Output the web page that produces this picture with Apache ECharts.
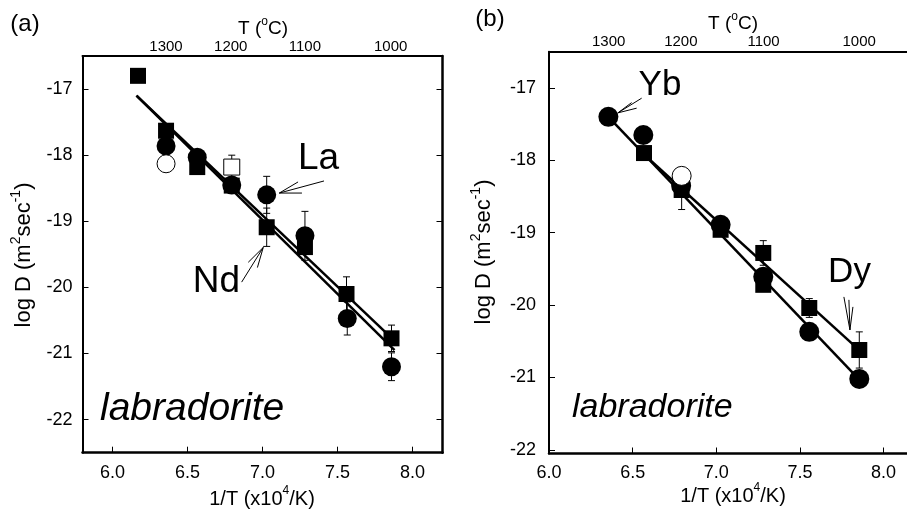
<!DOCTYPE html>
<html>
<head>
<meta charset="utf-8">
<script src="https://cdn.jsdelivr.net/npm/echarts@6/dist/echarts.min.js"></script>
<style>
html, body { margin: 0; padding: 0; background: #fff; }
#chart { width: 907px; height: 517px; }
</style>
</head>
<body>
<div id="chart"></div>
<script>
// ---- panel (a): La (circles) and Nd (squares) ----
const laX = [6.357, 6.565, 6.795, 7.028, 7.283, 7.565, 7.86];
const laY = [-17.86, -18.03, -18.45, -18.60, -19.22, -20.47, -21.20];
const laErr = [0, 0, 0, 0.28, 0.37, 0.25, 0.21];
const laOpenX = [6.357];
const laOpenY = [-18.13];

const ndX = [6.17, 6.357, 6.565, 6.795, 7.028, 7.283, 7.56, 7.86];
const ndY = [-16.80, -17.63, -18.18, -18.46, -19.09, -19.39, -20.10, -20.77];
const ndErr = [0, 0, 0, 0, 0.29, 0, 0.26, 0.20];
const ndOpenX = [6.795];
const ndOpenY = [-18.18];
const ndOpenErr = [0.18];

const laFitX = [6.16, 7.88];
const laFitY = [-17.10, -20.95];
const ndFitX = [6.16, 7.90];
const ndFitY = [-17.10, -20.85];

// ---- panel (b): Yb (circles) and Dy (squares) ----
const ybX = [6.355, 6.564, 6.79, 7.026, 7.281, 7.556, 7.855];
const ybY = [-17.40, -17.65, -18.35, -18.89, -19.61, -20.37, -21.02];
const ybOpenX = [6.793];
const ybOpenY = [-18.215];

const dyX = [6.568, 6.793, 7.026, 7.281, 7.281, 7.556, 7.855];
const dyY = [-17.90, -18.41, -18.96, -19.28, -19.72, -20.04, -20.62];
const dyErr = [0, 0.27, 0, 0.17, 0, 0.13, 0.25];

const ybFitX = [6.355, 7.855];
const ybFitY = [-17.40, -21.03];
const dyFitX = [6.568, 7.83];
const dyFitY = [-17.92, -20.57];

// ---- axis ticks ----
const invTTicks = [6.0, 6.5, 7.0, 7.5, 8.0];
const logDTicks = [-22, -21, -20, -19, -18, -17];
const tempTicksC = [1300, 1200, 1100, 1000];

// ---- label arrows: tip point, then the ends of the fan lines ----
const laArrowTip = [7.112, -18.573];
const laArrowEnds = [[7.41, -18.39], [7.237, -18.405], [7.263, -18.573]];
const ndArrowTip = [7.005, -19.395];
const ndArrowEnds = [[6.861, -19.92], [6.905, -19.62], [6.966, -19.70]];
const ybArrowTip = [6.412, -17.345];
const ybArrowEnds = [[6.554, -17.142], [6.494, -17.203], [6.524, -17.280]];
const dyArrowTip = [7.799, -20.343];
const dyArrowEnds = [[7.763, -19.887], [7.793, -19.928], [7.817, -20.025]];

const FONT = '"Liberation Sans", Arial, Helvetica, sans-serif';
const BLACK = '#000';

// 1/T (10^4/K) position of a temperature in deg C
const tempToInvT = c => 1e4 / (c + 273.15);
const invTToTemp = v => Math.round(1e4 / v - 273.15);
const tempPos = tempTicksC.map(tempToInvT);

const zip = (xs, ys) => xs.map((x, i) => [x, ys[i]]);

function bottomAxis(grid, min, max) {
  return {
    type: 'value', gridIndex: grid, position: 'bottom', min, max,
    axisLine: { show: true, lineStyle: { color: BLACK, width: 2.5 } },
    axisTick: { show: true, inside: true, length: 6, customValues: invTTicks,
      lineStyle: { color: BLACK, width: 1 } },
    axisLabel: { show: true, customValues: invTTicks, margin: 11,
      formatter: v => v.toFixed(1),
      fontSize: 18, color: BLACK, fontFamily: FONT },
    splitLine: { show: false }
  };
}
function topAxis(grid, min, max) {
  return {
    type: 'value', gridIndex: grid, position: 'top', min, max,
    axisLine: { show: true, lineStyle: { color: BLACK, width: 2 } },
    axisTick: { show: false, customValues: tempPos },
    axisLabel: { show: true, customValues: tempPos, margin: 2,
      formatter: v => String(invTToTemp(v)),
      fontSize: 15, color: BLACK, fontFamily: FONT },
    splitLine: { show: false }
  };
}
function leftAxis(grid, min, max, margin) {
  return {
    type: 'value', gridIndex: grid, position: 'left', min, max,
    axisLine: { show: true, lineStyle: { color: BLACK, width: 2 } },
    axisTick: { show: true, inside: true, length: 6, customValues: logDTicks,
      lineStyle: { color: BLACK, width: 1 } },
    axisLabel: { show: true, customValues: logDTicks, margin,
      formatter: v => String(v),
      fontSize: 18, color: BLACK, fontFamily: FONT },
    splitLine: { show: false }
  };
}
function rightAxis(grid, min, max) {
  return {
    type: 'value', gridIndex: grid, position: 'right', min, max,
    axisLine: { show: true, lineStyle: { color: BLACK, width: 2.5 } },
    axisTick: { show: true, inside: true, length: 6, customValues: logDTicks,
      lineStyle: { color: BLACK, width: 1 } },
    axisLabel: { show: false },
    splitLine: { show: false }
  };
}

function markers(xi, yi, xs, ys, symbol, size, open) {
  return {
    type: 'scatter', xAxisIndex: xi, yAxisIndex: yi, symbol, symbolSize: size,
    data: zip(xs, ys), z: open ? 6 : 5, silent: true,
    itemStyle: open
      ? { color: '#fff', borderColor: BLACK, borderWidth: 1, opacity: 1 }
      : { color: BLACK, borderWidth: 0, opacity: 1 }
  };
}
function fitLine(xi, yi, xs, ys) {
  return {
    type: 'line', xAxisIndex: xi, yAxisIndex: yi, data: zip(xs, ys),
    symbol: 'none', z: 3, silent: true,
    lineStyle: { color: BLACK, width: 2.5, opacity: 1 }
  };
}
function errorBars(xi, yi, xs, ys, es) {
  const data = [];
  xs.forEach((x, i) => { if (es[i] > 0) data.push([x, ys[i] - es[i], ys[i] + es[i]]); });
  return {
    type: 'custom', xAxisIndex: xi, yAxisIndex: yi, z: 4, silent: true,
    encode: { x: 0, y: [1, 2] }, data,
    renderItem(params, api) {
      const lo = api.coord([api.value(0), api.value(1)]);
      const hi = api.coord([api.value(0), api.value(2)]);
      const w = 3.5;
      const st = { stroke: BLACK, lineWidth: 1 };
      return { type: 'group', children: [
        { type: 'line', shape: { x1: lo[0], y1: lo[1], x2: hi[0], y2: hi[1] }, style: st },
        { type: 'line', shape: { x1: lo[0] - w, y1: lo[1], x2: lo[0] + w, y2: lo[1] }, style: st },
        { type: 'line', shape: { x1: hi[0] - w, y1: hi[1], x2: hi[0] + w, y2: hi[1] }, style: st }
      ]};
    }
  };
}
function arrowFan(xi, yi, tip, ends) {
  return {
    type: 'custom', xAxisIndex: xi, yAxisIndex: yi, z: 7, silent: true,
    encode: { x: [0, 2], y: [1, 3] },
    data: ends.map(e => [tip[0], tip[1], e[0], e[1]]),
    renderItem(params, api) {
      const a = api.coord([api.value(0), api.value(1)]);
      const b = api.coord([api.value(2), api.value(3)]);
      return { type: 'line', shape: { x1: a[0], y1: a[1], x2: b[0], y2: b[1] },
        style: { stroke: BLACK, lineWidth: 1 } };
    }
  };
}

function txt(x, y, text, size, extra) {
  return {
    type: 'text', x, y, silent: true,
    style: Object.assign({ text, fontSize: size, fontFamily: FONT, fill: BLACK,
      align: 'center', verticalAlign: 'middle' }, extra || {})
  };
}
function richTxt(x, y, text, size, rotation) {
  const el = {
    type: 'text', x, y, silent: true,
    style: {
      text, fill: BLACK, align: 'center', verticalAlign: 'middle',
      rich: {
        a: { fontSize: size, fontFamily: FONT, fill: BLACK, lineHeight: size + 4, verticalAlign: 'bottom' },
        s: { fontSize: Math.round(size * 0.62), fontFamily: FONT, fill: BLACK,
             lineHeight: size + 4, verticalAlign: 'top' }
      }
    }
  };
  if (rotation) el.rotation = rotation;
  return el;
}

const chart = echarts.init(document.getElementById('chart'), null, { renderer: 'canvas' });

chart.setOption({
  backgroundColor: '#fff',
  animation: false,
  grid: [
    { left: 82.5, right: 464.5, top: 56, bottom: 64.3, outerBoundsMode: 'none', containLabel: false },
    { left: 549, right: -10, top: 51.7, bottom: 63.5, outerBoundsMode: 'none', containLabel: false }
  ],
  xAxis: [
    bottomAxis(0, 5.8, 8.2),
    topAxis(0, 5.8, 8.2),
    bottomAxis(1, 6.0, 8.2),
    topAxis(1, 6.0, 8.2)
  ],
  yAxis: [
    leftAxis(0, -22.5, -16.5, 10),
    rightAxis(0, -22.5, -16.5),
    leftAxis(1, -22.05, -16.5, 13)
  ],
  series: [
    // panel (a)
    fitLine(0, 0, laFitX, laFitY),
    fitLine(0, 0, ndFitX, ndFitY),
    errorBars(0, 0, laX, laY, laErr),
    errorBars(0, 0, ndX, ndY, ndErr),
    errorBars(0, 0, ndOpenX, ndOpenY, ndOpenErr),
    markers(0, 0, laX, laY, 'circle', 19, false),
    markers(0, 0, ndX, ndY, 'rect', 16, false),
    markers(0, 0, laOpenX, laOpenY, 'circle', 18, true),
    markers(0, 0, ndOpenX, ndOpenY, 'rect', 16, true),
    arrowFan(0, 0, laArrowTip, laArrowEnds),
    arrowFan(0, 0, ndArrowTip, ndArrowEnds),
    // panel (b)
    fitLine(2, 2, ybFitX, ybFitY),
    fitLine(2, 2, dyFitX, dyFitY),
    errorBars(2, 2, dyX, dyY, dyErr),
    markers(2, 2, ybX, ybY, 'circle', 20, false),
    markers(2, 2, dyX, dyY, 'rect', 16, false),
    markers(2, 2, ybOpenX, ybOpenY, 'circle', 19, true),
    arrowFan(2, 2, ybArrowTip, ybArrowEnds),
    arrowFan(2, 2, dyArrowTip, dyArrowEnds)
  ],
  graphic: [
    txt(25, 24, '(a)', 24),
    txt(490, 19, '(b)', 24),
    richTxt(263, 27, '{a|T (}{s|o}{a|C)}', 19),
    richTxt(733, 22, '{a|T (}{s|o}{a|C)}', 19),
    richTxt(262, 497, '{a|1/T (x10}{s|4}{a|/K)}', 20),
    richTxt(733, 494, '{a|1/T (x10}{s|4}{a|/K)}', 20),
    richTxt(22, 255, '{a|log D (m}{s|2}{a|sec}{s|-1}{a|)}', 22, Math.PI / 2),
    richTxt(482, 252, '{a|log D (m}{s|2}{a|sec}{s|-1}{a|)}', 22, Math.PI / 2),
    txt(100, 409, 'labradorite', 39, { align: 'left', fontStyle: 'italic' }),
    txt(572, 408, 'labradorite', 34, { align: 'left', fontStyle: 'italic' }),
    txt(318.5, 159, 'La', 37),
    txt(216.5, 282, 'Nd', 37),
    txt(660, 85, 'Yb', 35),
    txt(849.5, 272, 'Dy', 35)
  ]
});
</script>
</body>
</html>
